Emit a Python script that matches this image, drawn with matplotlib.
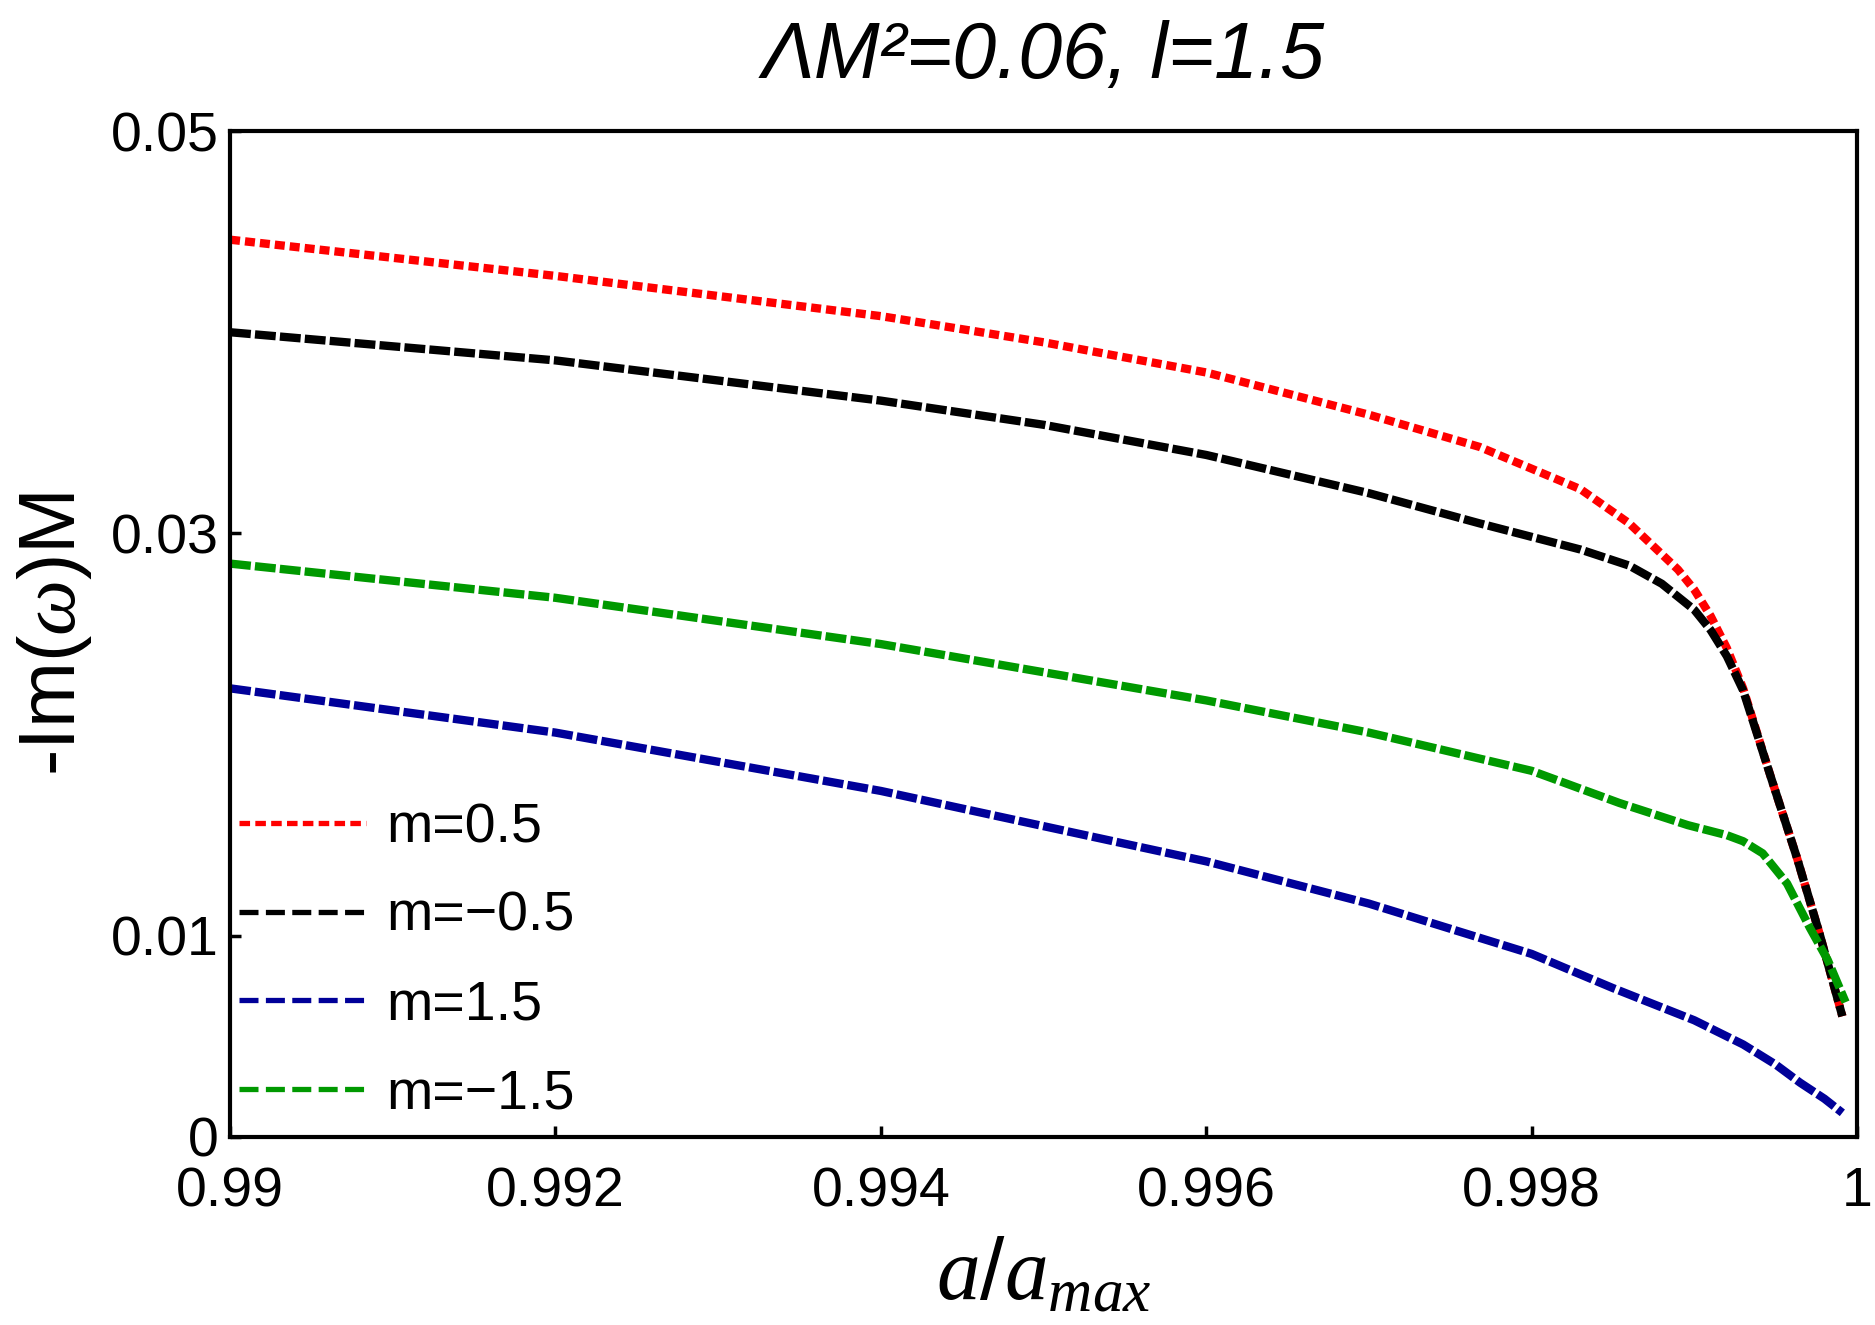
import matplotlib
matplotlib.use("Agg")
from matplotlib import pyplot as plt
from matplotlib.lines import Line2D

# data
x_red = [0.990, 0.992, 0.994, 0.995, 0.996, 0.997, 0.99768, 0.9983, 0.9986,
         0.9989, 0.9990, 0.9991, 0.9992, 0.9993, 0.99947, 0.99963, 0.99977, 0.99991]
y_red = [0.0446, 0.0428, 0.0408, 0.0395, 0.0380, 0.0359, 0.0343, 0.0322, 0.0305,
         0.0282, 0.0272, 0.0259, 0.0243, 0.0223, 0.0179, 0.0139, 0.0101, 0.0060]

x_black = [0.990, 0.992, 0.994, 0.995, 0.996, 0.997, 0.99768, 0.9983, 0.9986,
           0.9988, 0.9990, 0.9991, 0.9992, 0.9993, 0.99947, 0.99963, 0.99977, 0.99991]
y_black = [0.0400, 0.0386, 0.0366, 0.0354, 0.0339, 0.0320, 0.0305, 0.0292, 0.0284,
           0.0275, 0.0262, 0.0252, 0.0239, 0.0222, 0.0179, 0.0139, 0.0101, 0.0060]

x_green = [0.990, 0.992, 0.994, 0.996, 0.997, 0.998, 0.99854, 0.99896, 0.9992,
           0.9993, 0.99942, 0.99957, 0.99971, 0.99982, 0.99993]
y_green = [0.0285, 0.0268, 0.0245, 0.0217, 0.0201, 0.0182, 0.0166, 0.0155, 0.0150,
           0.0147, 0.0141, 0.0126, 0.0104, 0.0088, 0.0067]

x_blue = [0.990, 0.992, 0.994, 0.996, 0.997, 0.998, 0.9985, 0.999, 0.9993,
          0.9995, 0.99965, 0.9998, 0.99991]
y_blue = [0.0223, 0.0201, 0.0172, 0.0137, 0.0116, 0.0091, 0.0074, 0.0058, 0.0046,
          0.0036, 0.0027, 0.0019, 0.0012]

labels = ["m=0.5", "m=\u22120.5", "m=1.5", "m=\u22121.5"]
x_ticks = [0.99, 0.992, 0.994, 0.996, 0.998, 1.0]
x_ticklabels = ["0.99", "0.992", "0.994", "0.996", "0.998", "1"]
y_ticks = [0, 0.01, 0.03, 0.05]
y_ticklabels = ["0", "0.01", "0.03", "0.05"]

plt.rcParams["font.family"] = ["Liberation Sans", "DejaVu Sans"]
plt.rcParams["mathtext.fontset"] = "custom"
plt.rcParams["mathtext.rm"] = "Liberation Sans"
plt.rcParams["mathtext.it"] = "Liberation Serif:italic"

red = "#ff0000"
black = "#000000"
blue = "#000099"
green = "#009900"

# create a figure
fig = plt.figure(figsize=(18.75, 13.25), dpi=100)
ax = fig.add_axes([0.1227, 0.1419, 0.8677, 0.7592])

lw = 6.0
ax.plot(x_red, y_red, color=red, lw=lw, ls=(0, (1.2, 0.6)))
ax.plot(x_black, y_black, color=black, lw=lw, ls=(0, (2.5, 0.5)))
ax.plot(x_blue, y_blue, color=blue, lw=lw, ls=(0, (2.5, 0.5)))
ax.plot(x_green, y_green, color=green, lw=lw, ls=(0, (2.5, 0.5)))

ax.set_xlim(0.99, 1.0)
ax.set_ylim(0, 0.05)
ax.set_xticks(x_ticks)
ax.set_xticklabels(x_ticklabels)
ax.set_yticks(y_ticks)
ax.set_yticklabels(y_ticklabels)
ax.tick_params(direction="in", length=8, width=2.5, labelsize=40)
ax.tick_params(axis="x", pad=21)
ax.tick_params(axis="y", pad=8)
for s in ax.spines.values():
    s.set_linewidth(3)

ax.set_title("\u039bM\u00b2=0.06, l=1.5", fontsize=57, style="italic", pad=38)
ax.set_xlabel(r"$a/a_{max}$", fontsize=63, labelpad=13)
ax.set_ylabel(r"-Im($\omega$)M", fontsize=57, labelpad=12)

# legend with thinner proxy lines
lw_leg = 3.8
handles = [
    Line2D([], [], color=red, lw=lw_leg, ls=(0, (2.0, 1.0))),
    Line2D([], [], color=black, lw=lw_leg, ls=(0, (3.6, 1.4))),
    Line2D([], [], color=blue, lw=lw_leg, ls=(0, (3.6, 1.4))),
    Line2D([], [], color=green, lw=lw_leg, ls=(0, (3.6, 1.4))),
]
ax.legend(handles, labels, loc="lower left", bbox_to_anchor=(-0.005, 0.0),
          frameon=False, fontsize=40, handlelength=2.3, handletextpad=0.35,
          labelspacing=0.66, borderaxespad=0.1, borderpad=0.2)

fig.savefig("out.png", dpi=100)
